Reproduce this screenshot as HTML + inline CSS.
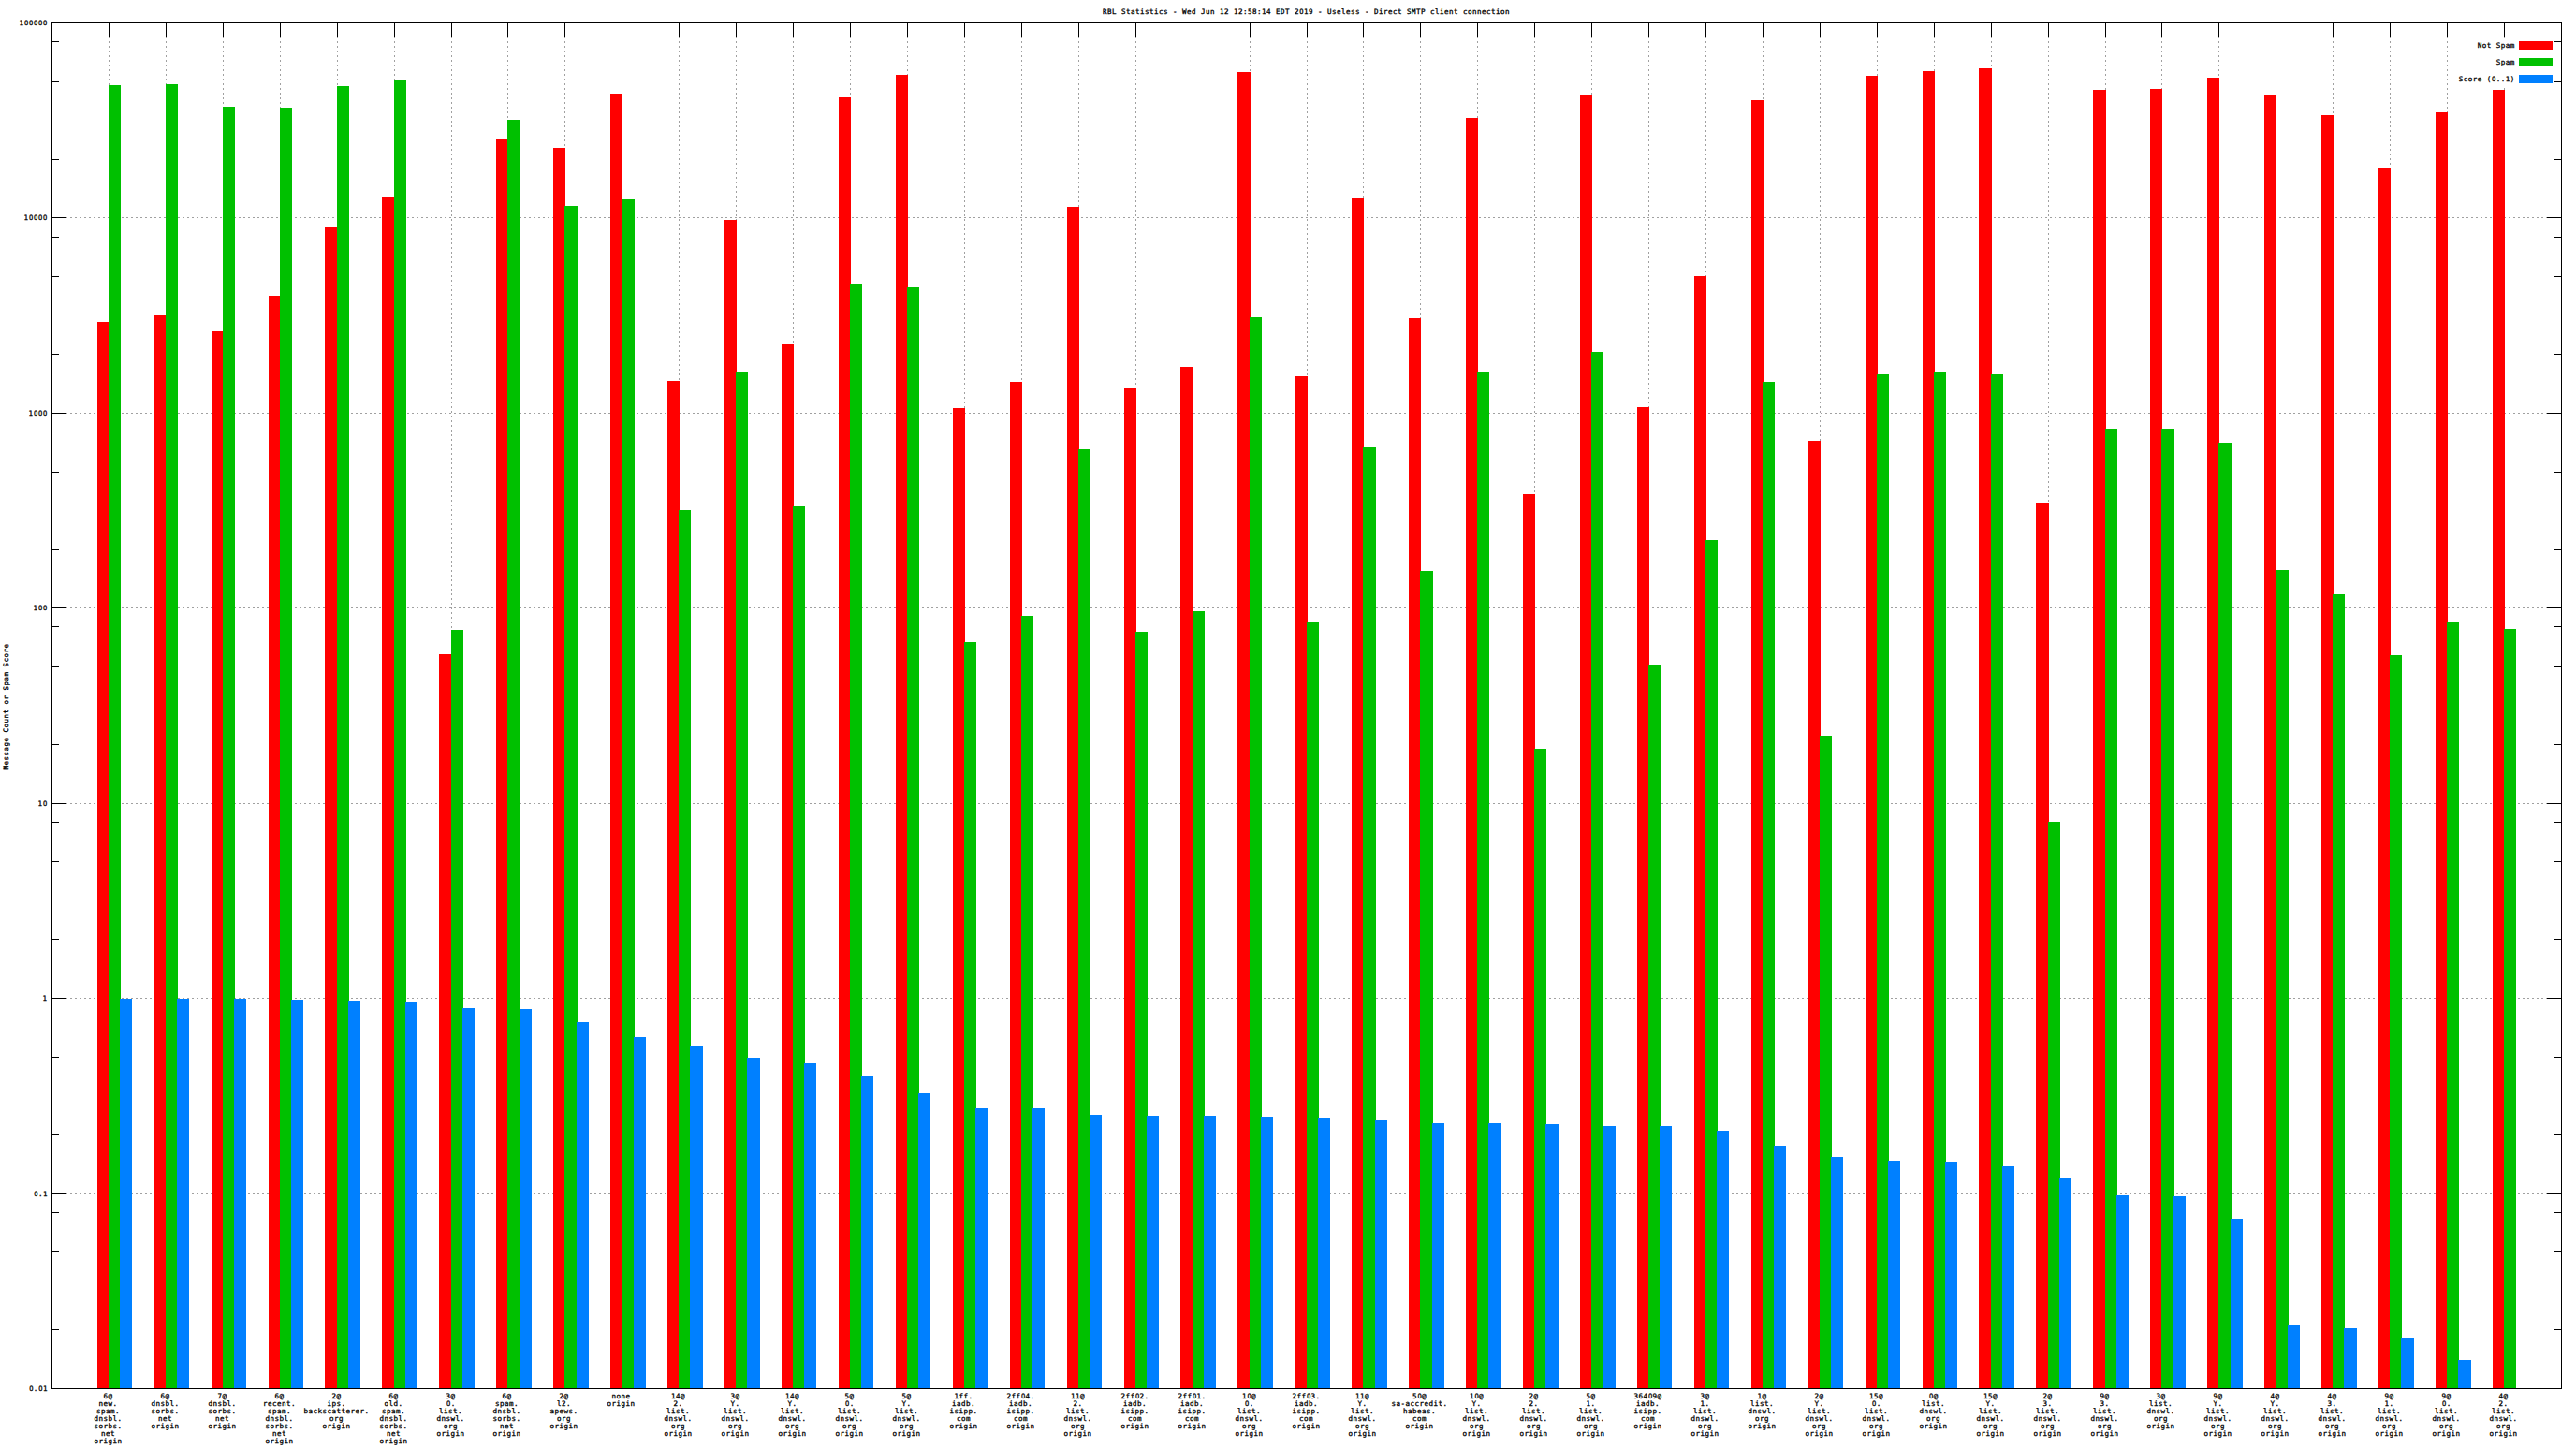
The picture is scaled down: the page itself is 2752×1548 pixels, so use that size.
<!DOCTYPE html>
<html lang="en"><head><meta charset="utf-8"><title>RBL Statistics</title>
<style>
html,body{margin:0;padding:0;background:#fff;}
body{width:2752px;height:1548px;overflow:hidden;}
svg{display:block;}
text{font-family:"DejaVu Sans Mono", "Liberation Mono", monospace;font-size:7.5px;fill:#000;stroke:#000;stroke-width:0.3px;letter-spacing:0.485px;}
.g line{stroke:#a0a0a0;stroke-width:1;stroke-dasharray:2 3;}
.k line,.k rect{stroke:#000;stroke-width:1;fill:none;}
.r{fill:#ff0000}.gr{fill:#00c000}.b{fill:#0080ff}
.m{text-anchor:middle}.e{text-anchor:end}
.z{font-family:"DejaVu Sans Condensed","DejaVu Sans","Liberation Sans",sans-serif;letter-spacing:0.41px}
</style></head><body>
<svg width="2752" height="1548" viewBox="0 0 2752 1548">
<rect x="0" y="0" width="2752" height="1548" fill="#ffffff"/>
<g class="g" shape-rendering="crispEdges">
<line x1="55" y1="232.5" x2="2736" y2="232.5"/>
<line x1="55" y1="441.5" x2="2736" y2="441.5"/>
<line x1="55" y1="649.5" x2="2736" y2="649.5"/>
<line x1="55" y1="858.5" x2="2736" y2="858.5"/>
<line x1="55" y1="1066.5" x2="2736" y2="1066.5"/>
<line x1="55" y1="1275.5" x2="2736" y2="1275.5"/>
<line x1="116.5" y1="24" x2="116.5" y2="1483"/>
<line x1="177.5" y1="24" x2="177.5" y2="1483"/>
<line x1="238.5" y1="24" x2="238.5" y2="1483"/>
<line x1="299.5" y1="24" x2="299.5" y2="1483"/>
<line x1="360.5" y1="24" x2="360.5" y2="1483"/>
<line x1="421.5" y1="24" x2="421.5" y2="1483"/>
<line x1="482.5" y1="24" x2="482.5" y2="1483"/>
<line x1="542.5" y1="24" x2="542.5" y2="1483"/>
<line x1="603.5" y1="24" x2="603.5" y2="1483"/>
<line x1="664.5" y1="24" x2="664.5" y2="1483"/>
<line x1="725.5" y1="24" x2="725.5" y2="1483"/>
<line x1="786.5" y1="24" x2="786.5" y2="1483"/>
<line x1="847.5" y1="24" x2="847.5" y2="1483"/>
<line x1="908.5" y1="24" x2="908.5" y2="1483"/>
<line x1="969.5" y1="24" x2="969.5" y2="1483"/>
<line x1="1030.5" y1="24" x2="1030.5" y2="1483"/>
<line x1="1091.5" y1="24" x2="1091.5" y2="1483"/>
<line x1="1152.5" y1="24" x2="1152.5" y2="1483"/>
<line x1="1213.5" y1="24" x2="1213.5" y2="1483"/>
<line x1="1274.5" y1="24" x2="1274.5" y2="1483"/>
<line x1="1335.5" y1="24" x2="1335.5" y2="1483"/>
<line x1="1396.5" y1="24" x2="1396.5" y2="1483"/>
<line x1="1456.5" y1="24" x2="1456.5" y2="1483"/>
<line x1="1517.5" y1="24" x2="1517.5" y2="1483"/>
<line x1="1578.5" y1="24" x2="1578.5" y2="1483"/>
<line x1="1639.5" y1="24" x2="1639.5" y2="1483"/>
<line x1="1700.5" y1="24" x2="1700.5" y2="1483"/>
<line x1="1761.5" y1="24" x2="1761.5" y2="1483"/>
<line x1="1822.5" y1="24" x2="1822.5" y2="1483"/>
<line x1="1883.5" y1="24" x2="1883.5" y2="1483"/>
<line x1="1944.5" y1="24" x2="1944.5" y2="1483"/>
<line x1="2005.5" y1="24" x2="2005.5" y2="1483"/>
<line x1="2066.5" y1="24" x2="2066.5" y2="1483"/>
<line x1="2127.5" y1="24" x2="2127.5" y2="1483"/>
<line x1="2188.5" y1="24" x2="2188.5" y2="1483"/>
<line x1="2249.5" y1="24" x2="2249.5" y2="1483"/>
<line x1="2309.5" y1="24" x2="2309.5" y2="1483"/>
<line x1="2370.5" y1="24" x2="2370.5" y2="1483"/>
<line x1="2431.5" y1="24" x2="2431.5" y2="1483"/>
<line x1="2492.5" y1="24" x2="2492.5" y2="1483"/>
<line x1="2553.5" y1="24" x2="2553.5" y2="1483"/>
<line x1="2614.5" y1="24" x2="2614.5" y2="1483"/>
<line x1="2675.5" y1="24" x2="2675.5" y2="1483"/>
</g>
<g shape-rendering="crispEdges">
<rect class="r" x="104" y="344" width="13" height="1139"/>
<rect class="gr" x="116" y="91" width="13" height="1392"/>
<rect class="b" x="128" y="1067" width="13" height="416"/>
<rect class="r" x="165" y="336" width="13" height="1147"/>
<rect class="gr" x="177" y="90" width="13" height="1393"/>
<rect class="b" x="189" y="1067" width="13" height="416"/>
<rect class="r" x="226" y="354" width="13" height="1129"/>
<rect class="gr" x="238" y="114" width="13" height="1369"/>
<rect class="b" x="250" y="1067" width="13" height="416"/>
<rect class="r" x="287" y="316" width="13" height="1167"/>
<rect class="gr" x="299" y="115" width="13" height="1368"/>
<rect class="b" x="311" y="1068" width="13" height="415"/>
<rect class="r" x="347" y="242" width="14" height="1241"/>
<rect class="gr" x="360" y="92" width="13" height="1391"/>
<rect class="b" x="372" y="1069" width="13" height="414"/>
<rect class="r" x="408" y="210" width="14" height="1273"/>
<rect class="gr" x="421" y="86" width="13" height="1397"/>
<rect class="b" x="433" y="1070" width="13" height="413"/>
<rect class="r" x="469" y="699" width="14" height="784"/>
<rect class="gr" x="482" y="673" width="13" height="810"/>
<rect class="b" x="494" y="1077" width="13" height="406"/>
<rect class="r" x="530" y="149" width="13" height="1334"/>
<rect class="gr" x="542" y="128" width="14" height="1355"/>
<rect class="b" x="555" y="1078" width="13" height="405"/>
<rect class="r" x="591" y="158" width="13" height="1325"/>
<rect class="gr" x="603" y="220" width="14" height="1263"/>
<rect class="b" x="616" y="1092" width="13" height="391"/>
<rect class="r" x="652" y="100" width="13" height="1383"/>
<rect class="gr" x="664" y="213" width="14" height="1270"/>
<rect class="b" x="677" y="1108" width="13" height="375"/>
<rect class="r" x="713" y="407" width="13" height="1076"/>
<rect class="gr" x="725" y="545" width="13" height="938"/>
<rect class="b" x="737" y="1118" width="14" height="365"/>
<rect class="r" x="774" y="235" width="13" height="1248"/>
<rect class="gr" x="786" y="397" width="13" height="1086"/>
<rect class="b" x="798" y="1130" width="14" height="353"/>
<rect class="r" x="835" y="367" width="13" height="1116"/>
<rect class="gr" x="847" y="541" width="13" height="942"/>
<rect class="b" x="859" y="1136" width="13" height="347"/>
<rect class="r" x="896" y="104" width="13" height="1379"/>
<rect class="gr" x="908" y="303" width="13" height="1180"/>
<rect class="b" x="920" y="1150" width="13" height="333"/>
<rect class="r" x="957" y="80" width="13" height="1403"/>
<rect class="gr" x="969" y="307" width="13" height="1176"/>
<rect class="b" x="981" y="1168" width="13" height="315"/>
<rect class="r" x="1018" y="436" width="13" height="1047"/>
<rect class="gr" x="1030" y="686" width="13" height="797"/>
<rect class="b" x="1042" y="1184" width="13" height="299"/>
<rect class="r" x="1079" y="408" width="13" height="1075"/>
<rect class="gr" x="1091" y="658" width="13" height="825"/>
<rect class="b" x="1103" y="1184" width="13" height="299"/>
<rect class="r" x="1140" y="221" width="13" height="1262"/>
<rect class="gr" x="1152" y="480" width="13" height="1003"/>
<rect class="b" x="1164" y="1191" width="13" height="292"/>
<rect class="r" x="1201" y="415" width="13" height="1068"/>
<rect class="gr" x="1213" y="675" width="13" height="808"/>
<rect class="b" x="1225" y="1192" width="13" height="291"/>
<rect class="r" x="1261" y="392" width="14" height="1091"/>
<rect class="gr" x="1274" y="653" width="13" height="830"/>
<rect class="b" x="1286" y="1192" width="13" height="291"/>
<rect class="r" x="1322" y="77" width="14" height="1406"/>
<rect class="gr" x="1335" y="339" width="13" height="1144"/>
<rect class="b" x="1347" y="1193" width="13" height="290"/>
<rect class="r" x="1383" y="402" width="14" height="1081"/>
<rect class="gr" x="1396" y="665" width="13" height="818"/>
<rect class="b" x="1408" y="1194" width="13" height="289"/>
<rect class="r" x="1444" y="212" width="13" height="1271"/>
<rect class="gr" x="1456" y="478" width="14" height="1005"/>
<rect class="b" x="1469" y="1196" width="13" height="287"/>
<rect class="r" x="1505" y="340" width="13" height="1143"/>
<rect class="gr" x="1517" y="610" width="14" height="873"/>
<rect class="b" x="1530" y="1200" width="13" height="283"/>
<rect class="r" x="1566" y="126" width="13" height="1357"/>
<rect class="gr" x="1578" y="397" width="13" height="1086"/>
<rect class="b" x="1590" y="1200" width="14" height="283"/>
<rect class="r" x="1627" y="528" width="13" height="955"/>
<rect class="gr" x="1639" y="800" width="13" height="683"/>
<rect class="b" x="1651" y="1201" width="14" height="282"/>
<rect class="r" x="1688" y="101" width="13" height="1382"/>
<rect class="gr" x="1700" y="376" width="13" height="1107"/>
<rect class="b" x="1712" y="1203" width="14" height="280"/>
<rect class="r" x="1749" y="435" width="13" height="1048"/>
<rect class="gr" x="1761" y="710" width="13" height="773"/>
<rect class="b" x="1773" y="1203" width="13" height="280"/>
<rect class="r" x="1810" y="295" width="13" height="1188"/>
<rect class="gr" x="1822" y="577" width="13" height="906"/>
<rect class="b" x="1834" y="1208" width="13" height="275"/>
<rect class="r" x="1871" y="107" width="13" height="1376"/>
<rect class="gr" x="1883" y="408" width="13" height="1075"/>
<rect class="b" x="1895" y="1224" width="13" height="259"/>
<rect class="r" x="1932" y="471" width="13" height="1012"/>
<rect class="gr" x="1944" y="786" width="13" height="697"/>
<rect class="b" x="1956" y="1236" width="13" height="247"/>
<rect class="r" x="1993" y="81" width="13" height="1402"/>
<rect class="gr" x="2005" y="400" width="13" height="1083"/>
<rect class="b" x="2017" y="1240" width="13" height="243"/>
<rect class="r" x="2054" y="76" width="13" height="1407"/>
<rect class="gr" x="2066" y="397" width="13" height="1086"/>
<rect class="b" x="2078" y="1241" width="13" height="242"/>
<rect class="r" x="2114" y="73" width="14" height="1410"/>
<rect class="gr" x="2127" y="400" width="13" height="1083"/>
<rect class="b" x="2139" y="1246" width="13" height="237"/>
<rect class="r" x="2175" y="537" width="14" height="946"/>
<rect class="gr" x="2188" y="878" width="13" height="605"/>
<rect class="b" x="2200" y="1259" width="13" height="224"/>
<rect class="r" x="2236" y="96" width="14" height="1387"/>
<rect class="gr" x="2249" y="458" width="13" height="1025"/>
<rect class="b" x="2261" y="1277" width="13" height="206"/>
<rect class="r" x="2297" y="95" width="13" height="1388"/>
<rect class="gr" x="2309" y="458" width="14" height="1025"/>
<rect class="b" x="2322" y="1278" width="13" height="205"/>
<rect class="r" x="2358" y="83" width="13" height="1400"/>
<rect class="gr" x="2370" y="473" width="14" height="1010"/>
<rect class="b" x="2383" y="1302" width="13" height="181"/>
<rect class="r" x="2419" y="101" width="13" height="1382"/>
<rect class="gr" x="2431" y="609" width="14" height="874"/>
<rect class="b" x="2444" y="1415" width="13" height="68"/>
<rect class="r" x="2480" y="123" width="13" height="1360"/>
<rect class="gr" x="2492" y="635" width="13" height="848"/>
<rect class="b" x="2504" y="1419" width="14" height="64"/>
<rect class="r" x="2541" y="179" width="13" height="1304"/>
<rect class="gr" x="2553" y="700" width="13" height="783"/>
<rect class="b" x="2565" y="1429" width="14" height="54"/>
<rect class="r" x="2602" y="120" width="13" height="1363"/>
<rect class="gr" x="2614" y="665" width="13" height="818"/>
<rect class="b" x="2626" y="1453" width="14" height="30"/>
<rect class="r" x="2663" y="96" width="13" height="1387"/>
<rect class="gr" x="2675" y="672" width="13" height="811"/>
</g>
<g shape-rendering="crispEdges">
<rect x="2621" y="41" width="108" height="52" fill="#ffffff"/>
<rect class="r" x="2691" y="44" width="36" height="9"/>
<rect class="gr" x="2691" y="62" width="36" height="9"/>
<rect class="b" x="2691" y="80" width="36" height="9"/>
</g>
<g class="k" shape-rendering="crispEdges">
<rect x="55.5" y="24.5" width="2681" height="1459"/>
<line x1="116.5" y1="24" x2="116.5" y2="40"/>
<line x1="177.5" y1="24" x2="177.5" y2="40"/>
<line x1="238.5" y1="24" x2="238.5" y2="40"/>
<line x1="299.5" y1="24" x2="299.5" y2="40"/>
<line x1="360.5" y1="24" x2="360.5" y2="40"/>
<line x1="421.5" y1="24" x2="421.5" y2="40"/>
<line x1="482.5" y1="24" x2="482.5" y2="40"/>
<line x1="542.5" y1="24" x2="542.5" y2="40"/>
<line x1="603.5" y1="24" x2="603.5" y2="40"/>
<line x1="664.5" y1="24" x2="664.5" y2="40"/>
<line x1="725.5" y1="24" x2="725.5" y2="40"/>
<line x1="786.5" y1="24" x2="786.5" y2="40"/>
<line x1="847.5" y1="24" x2="847.5" y2="40"/>
<line x1="908.5" y1="24" x2="908.5" y2="40"/>
<line x1="969.5" y1="24" x2="969.5" y2="40"/>
<line x1="1030.5" y1="24" x2="1030.5" y2="40"/>
<line x1="1091.5" y1="24" x2="1091.5" y2="40"/>
<line x1="1152.5" y1="24" x2="1152.5" y2="40"/>
<line x1="1213.5" y1="24" x2="1213.5" y2="40"/>
<line x1="1274.5" y1="24" x2="1274.5" y2="40"/>
<line x1="1335.5" y1="24" x2="1335.5" y2="40"/>
<line x1="1396.5" y1="24" x2="1396.5" y2="40"/>
<line x1="1456.5" y1="24" x2="1456.5" y2="40"/>
<line x1="1517.5" y1="24" x2="1517.5" y2="40"/>
<line x1="1578.5" y1="24" x2="1578.5" y2="40"/>
<line x1="1639.5" y1="24" x2="1639.5" y2="40"/>
<line x1="1700.5" y1="24" x2="1700.5" y2="40"/>
<line x1="1761.5" y1="24" x2="1761.5" y2="40"/>
<line x1="1822.5" y1="24" x2="1822.5" y2="40"/>
<line x1="1883.5" y1="24" x2="1883.5" y2="40"/>
<line x1="1944.5" y1="24" x2="1944.5" y2="40"/>
<line x1="2005.5" y1="24" x2="2005.5" y2="40"/>
<line x1="2066.5" y1="24" x2="2066.5" y2="40"/>
<line x1="2127.5" y1="24" x2="2127.5" y2="40"/>
<line x1="2188.5" y1="24" x2="2188.5" y2="40"/>
<line x1="2249.5" y1="24" x2="2249.5" y2="40"/>
<line x1="2309.5" y1="24" x2="2309.5" y2="40"/>
<line x1="2370.5" y1="24" x2="2370.5" y2="40"/>
<line x1="2431.5" y1="24" x2="2431.5" y2="40"/>
<line x1="2492.5" y1="24" x2="2492.5" y2="40"/>
<line x1="2553.5" y1="24" x2="2553.5" y2="40"/>
<line x1="2614.5" y1="24" x2="2614.5" y2="40"/>
<line x1="2675.5" y1="24" x2="2675.5" y2="40"/>
<line x1="55" y1="44.5" x2="63" y2="44.5"/>
<line x1="2729" y1="44.5" x2="2737" y2="44.5"/>
<line x1="55" y1="87.5" x2="63" y2="87.5"/>
<line x1="2729" y1="87.5" x2="2737" y2="87.5"/>
<line x1="55" y1="170.5" x2="63" y2="170.5"/>
<line x1="2729" y1="170.5" x2="2737" y2="170.5"/>
<line x1="55" y1="232.5" x2="71" y2="232.5"/>
<line x1="2721" y1="232.5" x2="2737" y2="232.5"/>
<line x1="55" y1="253.5" x2="63" y2="253.5"/>
<line x1="2729" y1="253.5" x2="2737" y2="253.5"/>
<line x1="55" y1="295.5" x2="63" y2="295.5"/>
<line x1="2729" y1="295.5" x2="2737" y2="295.5"/>
<line x1="55" y1="378.5" x2="63" y2="378.5"/>
<line x1="2729" y1="378.5" x2="2737" y2="378.5"/>
<line x1="55" y1="441.5" x2="71" y2="441.5"/>
<line x1="2721" y1="441.5" x2="2737" y2="441.5"/>
<line x1="55" y1="461.5" x2="63" y2="461.5"/>
<line x1="2729" y1="461.5" x2="2737" y2="461.5"/>
<line x1="55" y1="504.5" x2="63" y2="504.5"/>
<line x1="2729" y1="504.5" x2="2737" y2="504.5"/>
<line x1="55" y1="587.5" x2="63" y2="587.5"/>
<line x1="2729" y1="587.5" x2="2737" y2="587.5"/>
<line x1="55" y1="649.5" x2="71" y2="649.5"/>
<line x1="2721" y1="649.5" x2="2737" y2="649.5"/>
<line x1="55" y1="669.5" x2="63" y2="669.5"/>
<line x1="2729" y1="669.5" x2="2737" y2="669.5"/>
<line x1="55" y1="712.5" x2="63" y2="712.5"/>
<line x1="2729" y1="712.5" x2="2737" y2="712.5"/>
<line x1="55" y1="795.5" x2="63" y2="795.5"/>
<line x1="2729" y1="795.5" x2="2737" y2="795.5"/>
<line x1="55" y1="858.5" x2="71" y2="858.5"/>
<line x1="2721" y1="858.5" x2="2737" y2="858.5"/>
<line x1="55" y1="878.5" x2="63" y2="878.5"/>
<line x1="2729" y1="878.5" x2="2737" y2="878.5"/>
<line x1="55" y1="920.5" x2="63" y2="920.5"/>
<line x1="2729" y1="920.5" x2="2737" y2="920.5"/>
<line x1="55" y1="1003.5" x2="63" y2="1003.5"/>
<line x1="2729" y1="1003.5" x2="2737" y2="1003.5"/>
<line x1="55" y1="1066.5" x2="71" y2="1066.5"/>
<line x1="2721" y1="1066.5" x2="2737" y2="1066.5"/>
<line x1="55" y1="1086.5" x2="63" y2="1086.5"/>
<line x1="2729" y1="1086.5" x2="2737" y2="1086.5"/>
<line x1="55" y1="1129.5" x2="63" y2="1129.5"/>
<line x1="2729" y1="1129.5" x2="2737" y2="1129.5"/>
<line x1="55" y1="1212.5" x2="63" y2="1212.5"/>
<line x1="2729" y1="1212.5" x2="2737" y2="1212.5"/>
<line x1="55" y1="1275.5" x2="71" y2="1275.5"/>
<line x1="2721" y1="1275.5" x2="2737" y2="1275.5"/>
<line x1="55" y1="1295.5" x2="63" y2="1295.5"/>
<line x1="2729" y1="1295.5" x2="2737" y2="1295.5"/>
<line x1="55" y1="1337.5" x2="63" y2="1337.5"/>
<line x1="2729" y1="1337.5" x2="2737" y2="1337.5"/>
<line x1="55" y1="1420.5" x2="63" y2="1420.5"/>
<line x1="2729" y1="1420.5" x2="2737" y2="1420.5"/>
</g>
<g>
<text class="m" x="1395.5" y="15.2">RBL Statistics - Wed Jun 12 12:58:14 EDT 2<tspan class="z" dx="0.3">0</tspan>19 - Useless - Direct SMTP client connection</text>
<text class="m" transform="translate(9,755) rotate(-90)">Message Count or Spam Score</text>
<text class="e" x="50.6" y="27">1<tspan class="z" dx="0.3">0</tspan><tspan class="z" dx="0.3">0</tspan><tspan class="z" dx="0.3">0</tspan><tspan class="z" dx="0.3">0</tspan><tspan class="z" dx="0.3">0</tspan></text>
<text class="e" x="50.6" y="235">1<tspan class="z" dx="0.3">0</tspan><tspan class="z" dx="0.3">0</tspan><tspan class="z" dx="0.3">0</tspan><tspan class="z" dx="0.3">0</tspan></text>
<text class="e" x="50.6" y="444">1<tspan class="z" dx="0.3">0</tspan><tspan class="z" dx="0.3">0</tspan><tspan class="z" dx="0.3">0</tspan></text>
<text class="e" x="50.6" y="652">1<tspan class="z" dx="0.3">0</tspan><tspan class="z" dx="0.3">0</tspan></text>
<text class="e" x="50.6" y="861">1<tspan class="z" dx="0.3">0</tspan></text>
<text class="e" x="50.6" y="1069">1</text>
<text class="e" x="50.6" y="1278"><tspan class="z" dx="0.3">0</tspan>.1</text>
<text class="e" x="50.6" y="1486"><tspan class="z" dx="0.3">0</tspan>.<tspan class="z" dx="0.3">0</tspan>1</text>
<text class="e" x="2686.8" y="51">Not Spam</text>
<text class="e" x="2686.8" y="69">Spam</text>
<text class="e" x="2686.8" y="87">Score (<tspan class="z" dx="0.3">0</tspan>..1)</text>
<g>
<text class="m" x="115.6" y="1494.2">6@</text>
<text class="m" x="115.6" y="1502.2">new.</text>
<text class="m" x="115.6" y="1510.2">spam.</text>
<text class="m" x="115.6" y="1518.2">dnsbl.</text>
<text class="m" x="115.6" y="1526.2">sorbs.</text>
<text class="m" x="115.6" y="1534.2">net</text>
<text class="m" x="115.6" y="1542.2">origin</text>
</g>
<g>
<text class="m" x="176.6" y="1494.2">6@</text>
<text class="m" x="176.6" y="1502.2">dnsbl.</text>
<text class="m" x="176.6" y="1510.2">sorbs.</text>
<text class="m" x="176.6" y="1518.2">net</text>
<text class="m" x="176.6" y="1526.2">origin</text>
</g>
<g>
<text class="m" x="237.6" y="1494.2">7@</text>
<text class="m" x="237.6" y="1502.2">dnsbl.</text>
<text class="m" x="237.6" y="1510.2">sorbs.</text>
<text class="m" x="237.6" y="1518.2">net</text>
<text class="m" x="237.6" y="1526.2">origin</text>
</g>
<g>
<text class="m" x="298.6" y="1494.2">6@</text>
<text class="m" x="298.6" y="1502.2">recent.</text>
<text class="m" x="298.6" y="1510.2">spam.</text>
<text class="m" x="298.6" y="1518.2">dnsbl.</text>
<text class="m" x="298.6" y="1526.2">sorbs.</text>
<text class="m" x="298.6" y="1534.2">net</text>
<text class="m" x="298.6" y="1542.2">origin</text>
</g>
<g>
<text class="m" x="359.6" y="1494.2">2@</text>
<text class="m" x="359.6" y="1502.2">ips.</text>
<text class="m" x="359.6" y="1510.2">backscatterer.</text>
<text class="m" x="359.6" y="1518.2">org</text>
<text class="m" x="359.6" y="1526.2">origin</text>
</g>
<g>
<text class="m" x="420.6" y="1494.2">6@</text>
<text class="m" x="420.6" y="1502.2">old.</text>
<text class="m" x="420.6" y="1510.2">spam.</text>
<text class="m" x="420.6" y="1518.2">dnsbl.</text>
<text class="m" x="420.6" y="1526.2">sorbs.</text>
<text class="m" x="420.6" y="1534.2">net</text>
<text class="m" x="420.6" y="1542.2">origin</text>
</g>
<g>
<text class="m" x="481.6" y="1494.2">3@</text>
<text class="m" x="481.6" y="1502.2"><tspan class="z" dx="0.3">0</tspan>.</text>
<text class="m" x="481.6" y="1510.2">list.</text>
<text class="m" x="481.6" y="1518.2">dnswl.</text>
<text class="m" x="481.6" y="1526.2">org</text>
<text class="m" x="481.6" y="1534.2">origin</text>
</g>
<g>
<text class="m" x="541.6" y="1494.2">6@</text>
<text class="m" x="541.6" y="1502.2">spam.</text>
<text class="m" x="541.6" y="1510.2">dnsbl.</text>
<text class="m" x="541.6" y="1518.2">sorbs.</text>
<text class="m" x="541.6" y="1526.2">net</text>
<text class="m" x="541.6" y="1534.2">origin</text>
</g>
<g>
<text class="m" x="602.6" y="1494.2">2@</text>
<text class="m" x="602.6" y="1502.2">l2.</text>
<text class="m" x="602.6" y="1510.2">apews.</text>
<text class="m" x="602.6" y="1518.2">org</text>
<text class="m" x="602.6" y="1526.2">origin</text>
</g>
<g>
<text class="m" x="663.6" y="1494.2">none</text>
<text class="m" x="663.6" y="1502.2">origin</text>
</g>
<g>
<text class="m" x="724.6" y="1494.2">14@</text>
<text class="m" x="724.6" y="1502.2">2.</text>
<text class="m" x="724.6" y="1510.2">list.</text>
<text class="m" x="724.6" y="1518.2">dnswl.</text>
<text class="m" x="724.6" y="1526.2">org</text>
<text class="m" x="724.6" y="1534.2">origin</text>
</g>
<g>
<text class="m" x="785.6" y="1494.2">3@</text>
<text class="m" x="785.6" y="1502.2">Y.</text>
<text class="m" x="785.6" y="1510.2">list.</text>
<text class="m" x="785.6" y="1518.2">dnswl.</text>
<text class="m" x="785.6" y="1526.2">org</text>
<text class="m" x="785.6" y="1534.2">origin</text>
</g>
<g>
<text class="m" x="846.6" y="1494.2">14@</text>
<text class="m" x="846.6" y="1502.2">Y.</text>
<text class="m" x="846.6" y="1510.2">list.</text>
<text class="m" x="846.6" y="1518.2">dnswl.</text>
<text class="m" x="846.6" y="1526.2">org</text>
<text class="m" x="846.6" y="1534.2">origin</text>
</g>
<g>
<text class="m" x="907.6" y="1494.2">5@</text>
<text class="m" x="907.6" y="1502.2"><tspan class="z" dx="0.3">0</tspan>.</text>
<text class="m" x="907.6" y="1510.2">list.</text>
<text class="m" x="907.6" y="1518.2">dnswl.</text>
<text class="m" x="907.6" y="1526.2">org</text>
<text class="m" x="907.6" y="1534.2">origin</text>
</g>
<g>
<text class="m" x="968.6" y="1494.2">5@</text>
<text class="m" x="968.6" y="1502.2">Y.</text>
<text class="m" x="968.6" y="1510.2">list.</text>
<text class="m" x="968.6" y="1518.2">dnswl.</text>
<text class="m" x="968.6" y="1526.2">org</text>
<text class="m" x="968.6" y="1534.2">origin</text>
</g>
<g>
<text class="m" x="1029.6" y="1494.2">1ff.</text>
<text class="m" x="1029.6" y="1502.2">iadb.</text>
<text class="m" x="1029.6" y="1510.2">isipp.</text>
<text class="m" x="1029.6" y="1518.2">com</text>
<text class="m" x="1029.6" y="1526.2">origin</text>
</g>
<g>
<text class="m" x="1090.6" y="1494.2">2ff<tspan class="z" dx="0.3">0</tspan>4.</text>
<text class="m" x="1090.6" y="1502.2">iadb.</text>
<text class="m" x="1090.6" y="1510.2">isipp.</text>
<text class="m" x="1090.6" y="1518.2">com</text>
<text class="m" x="1090.6" y="1526.2">origin</text>
</g>
<g>
<text class="m" x="1151.6" y="1494.2">11@</text>
<text class="m" x="1151.6" y="1502.2">2.</text>
<text class="m" x="1151.6" y="1510.2">list.</text>
<text class="m" x="1151.6" y="1518.2">dnswl.</text>
<text class="m" x="1151.6" y="1526.2">org</text>
<text class="m" x="1151.6" y="1534.2">origin</text>
</g>
<g>
<text class="m" x="1212.6" y="1494.2">2ff<tspan class="z" dx="0.3">0</tspan>2.</text>
<text class="m" x="1212.6" y="1502.2">iadb.</text>
<text class="m" x="1212.6" y="1510.2">isipp.</text>
<text class="m" x="1212.6" y="1518.2">com</text>
<text class="m" x="1212.6" y="1526.2">origin</text>
</g>
<g>
<text class="m" x="1273.6" y="1494.2">2ff<tspan class="z" dx="0.3">0</tspan>1.</text>
<text class="m" x="1273.6" y="1502.2">iadb.</text>
<text class="m" x="1273.6" y="1510.2">isipp.</text>
<text class="m" x="1273.6" y="1518.2">com</text>
<text class="m" x="1273.6" y="1526.2">origin</text>
</g>
<g>
<text class="m" x="1334.6" y="1494.2">1<tspan class="z" dx="0.3">0</tspan>@</text>
<text class="m" x="1334.6" y="1502.2"><tspan class="z" dx="0.3">0</tspan>.</text>
<text class="m" x="1334.6" y="1510.2">list.</text>
<text class="m" x="1334.6" y="1518.2">dnswl.</text>
<text class="m" x="1334.6" y="1526.2">org</text>
<text class="m" x="1334.6" y="1534.2">origin</text>
</g>
<g>
<text class="m" x="1395.6" y="1494.2">2ff<tspan class="z" dx="0.3">0</tspan>3.</text>
<text class="m" x="1395.6" y="1502.2">iadb.</text>
<text class="m" x="1395.6" y="1510.2">isipp.</text>
<text class="m" x="1395.6" y="1518.2">com</text>
<text class="m" x="1395.6" y="1526.2">origin</text>
</g>
<g>
<text class="m" x="1455.6" y="1494.2">11@</text>
<text class="m" x="1455.6" y="1502.2">Y.</text>
<text class="m" x="1455.6" y="1510.2">list.</text>
<text class="m" x="1455.6" y="1518.2">dnswl.</text>
<text class="m" x="1455.6" y="1526.2">org</text>
<text class="m" x="1455.6" y="1534.2">origin</text>
</g>
<g>
<text class="m" x="1516.6" y="1494.2">5<tspan class="z" dx="0.3">0</tspan>@</text>
<text class="m" x="1516.6" y="1502.2">sa-accredit.</text>
<text class="m" x="1516.6" y="1510.2">habeas.</text>
<text class="m" x="1516.6" y="1518.2">com</text>
<text class="m" x="1516.6" y="1526.2">origin</text>
</g>
<g>
<text class="m" x="1577.6" y="1494.2">1<tspan class="z" dx="0.3">0</tspan>@</text>
<text class="m" x="1577.6" y="1502.2">Y.</text>
<text class="m" x="1577.6" y="1510.2">list.</text>
<text class="m" x="1577.6" y="1518.2">dnswl.</text>
<text class="m" x="1577.6" y="1526.2">org</text>
<text class="m" x="1577.6" y="1534.2">origin</text>
</g>
<g>
<text class="m" x="1638.6" y="1494.2">2@</text>
<text class="m" x="1638.6" y="1502.2">2.</text>
<text class="m" x="1638.6" y="1510.2">list.</text>
<text class="m" x="1638.6" y="1518.2">dnswl.</text>
<text class="m" x="1638.6" y="1526.2">org</text>
<text class="m" x="1638.6" y="1534.2">origin</text>
</g>
<g>
<text class="m" x="1699.6" y="1494.2">5@</text>
<text class="m" x="1699.6" y="1502.2">1.</text>
<text class="m" x="1699.6" y="1510.2">list.</text>
<text class="m" x="1699.6" y="1518.2">dnswl.</text>
<text class="m" x="1699.6" y="1526.2">org</text>
<text class="m" x="1699.6" y="1534.2">origin</text>
</g>
<g>
<text class="m" x="1760.6" y="1494.2">364<tspan class="z" dx="0.3">0</tspan>9@</text>
<text class="m" x="1760.6" y="1502.2">iadb.</text>
<text class="m" x="1760.6" y="1510.2">isipp.</text>
<text class="m" x="1760.6" y="1518.2">com</text>
<text class="m" x="1760.6" y="1526.2">origin</text>
</g>
<g>
<text class="m" x="1821.6" y="1494.2">3@</text>
<text class="m" x="1821.6" y="1502.2">1.</text>
<text class="m" x="1821.6" y="1510.2">list.</text>
<text class="m" x="1821.6" y="1518.2">dnswl.</text>
<text class="m" x="1821.6" y="1526.2">org</text>
<text class="m" x="1821.6" y="1534.2">origin</text>
</g>
<g>
<text class="m" x="1882.6" y="1494.2">1@</text>
<text class="m" x="1882.6" y="1502.2">list.</text>
<text class="m" x="1882.6" y="1510.2">dnswl.</text>
<text class="m" x="1882.6" y="1518.2">org</text>
<text class="m" x="1882.6" y="1526.2">origin</text>
</g>
<g>
<text class="m" x="1943.6" y="1494.2">2@</text>
<text class="m" x="1943.6" y="1502.2">Y.</text>
<text class="m" x="1943.6" y="1510.2">list.</text>
<text class="m" x="1943.6" y="1518.2">dnswl.</text>
<text class="m" x="1943.6" y="1526.2">org</text>
<text class="m" x="1943.6" y="1534.2">origin</text>
</g>
<g>
<text class="m" x="2004.6" y="1494.2">15@</text>
<text class="m" x="2004.6" y="1502.2"><tspan class="z" dx="0.3">0</tspan>.</text>
<text class="m" x="2004.6" y="1510.2">list.</text>
<text class="m" x="2004.6" y="1518.2">dnswl.</text>
<text class="m" x="2004.6" y="1526.2">org</text>
<text class="m" x="2004.6" y="1534.2">origin</text>
</g>
<g>
<text class="m" x="2065.6" y="1494.2"><tspan class="z" dx="0.3">0</tspan>@</text>
<text class="m" x="2065.6" y="1502.2">list.</text>
<text class="m" x="2065.6" y="1510.2">dnswl.</text>
<text class="m" x="2065.6" y="1518.2">org</text>
<text class="m" x="2065.6" y="1526.2">origin</text>
</g>
<g>
<text class="m" x="2126.6" y="1494.2">15@</text>
<text class="m" x="2126.6" y="1502.2">Y.</text>
<text class="m" x="2126.6" y="1510.2">list.</text>
<text class="m" x="2126.6" y="1518.2">dnswl.</text>
<text class="m" x="2126.6" y="1526.2">org</text>
<text class="m" x="2126.6" y="1534.2">origin</text>
</g>
<g>
<text class="m" x="2187.6" y="1494.2">2@</text>
<text class="m" x="2187.6" y="1502.2">3.</text>
<text class="m" x="2187.6" y="1510.2">list.</text>
<text class="m" x="2187.6" y="1518.2">dnswl.</text>
<text class="m" x="2187.6" y="1526.2">org</text>
<text class="m" x="2187.6" y="1534.2">origin</text>
</g>
<g>
<text class="m" x="2248.6" y="1494.2">9@</text>
<text class="m" x="2248.6" y="1502.2">3.</text>
<text class="m" x="2248.6" y="1510.2">list.</text>
<text class="m" x="2248.6" y="1518.2">dnswl.</text>
<text class="m" x="2248.6" y="1526.2">org</text>
<text class="m" x="2248.6" y="1534.2">origin</text>
</g>
<g>
<text class="m" x="2308.6" y="1494.2">3@</text>
<text class="m" x="2308.6" y="1502.2">list.</text>
<text class="m" x="2308.6" y="1510.2">dnswl.</text>
<text class="m" x="2308.6" y="1518.2">org</text>
<text class="m" x="2308.6" y="1526.2">origin</text>
</g>
<g>
<text class="m" x="2369.6" y="1494.2">9@</text>
<text class="m" x="2369.6" y="1502.2">Y.</text>
<text class="m" x="2369.6" y="1510.2">list.</text>
<text class="m" x="2369.6" y="1518.2">dnswl.</text>
<text class="m" x="2369.6" y="1526.2">org</text>
<text class="m" x="2369.6" y="1534.2">origin</text>
</g>
<g>
<text class="m" x="2430.6" y="1494.2">4@</text>
<text class="m" x="2430.6" y="1502.2">Y.</text>
<text class="m" x="2430.6" y="1510.2">list.</text>
<text class="m" x="2430.6" y="1518.2">dnswl.</text>
<text class="m" x="2430.6" y="1526.2">org</text>
<text class="m" x="2430.6" y="1534.2">origin</text>
</g>
<g>
<text class="m" x="2491.6" y="1494.2">4@</text>
<text class="m" x="2491.6" y="1502.2">3.</text>
<text class="m" x="2491.6" y="1510.2">list.</text>
<text class="m" x="2491.6" y="1518.2">dnswl.</text>
<text class="m" x="2491.6" y="1526.2">org</text>
<text class="m" x="2491.6" y="1534.2">origin</text>
</g>
<g>
<text class="m" x="2552.6" y="1494.2">9@</text>
<text class="m" x="2552.6" y="1502.2">1.</text>
<text class="m" x="2552.6" y="1510.2">list.</text>
<text class="m" x="2552.6" y="1518.2">dnswl.</text>
<text class="m" x="2552.6" y="1526.2">org</text>
<text class="m" x="2552.6" y="1534.2">origin</text>
</g>
<g>
<text class="m" x="2613.6" y="1494.2">9@</text>
<text class="m" x="2613.6" y="1502.2"><tspan class="z" dx="0.3">0</tspan>.</text>
<text class="m" x="2613.6" y="1510.2">list.</text>
<text class="m" x="2613.6" y="1518.2">dnswl.</text>
<text class="m" x="2613.6" y="1526.2">org</text>
<text class="m" x="2613.6" y="1534.2">origin</text>
</g>
<g>
<text class="m" x="2674.6" y="1494.2">4@</text>
<text class="m" x="2674.6" y="1502.2">2.</text>
<text class="m" x="2674.6" y="1510.2">list.</text>
<text class="m" x="2674.6" y="1518.2">dnswl.</text>
<text class="m" x="2674.6" y="1526.2">org</text>
<text class="m" x="2674.6" y="1534.2">origin</text>
</g>
</g>
</svg></body></html>
